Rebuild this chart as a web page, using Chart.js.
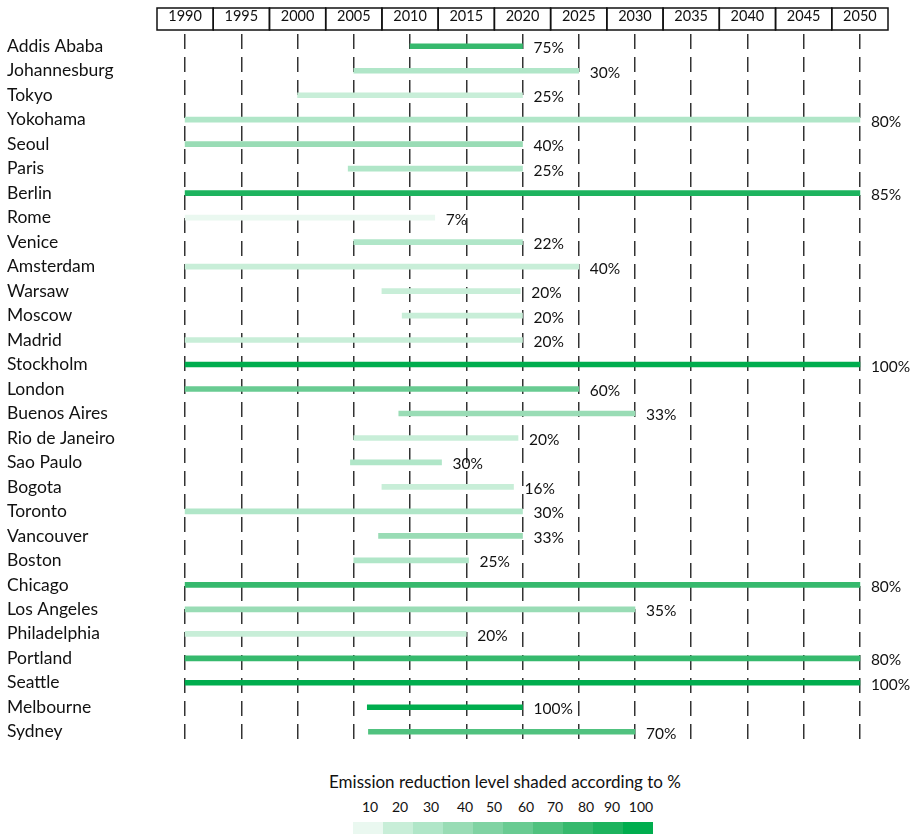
<!DOCTYPE html>
<html>
<head>
<meta charset="utf-8">
<script src="https://cdn.jsdelivr.net/npm/chart.js@4/dist/chart.umd.min.js"></script>
<style>
  body { margin: 0; background: #fff; font-family: Lato, sans-serif; }
  #wrap { position: relative; width: 921px; height: 835px; }
  #chartBox { position: absolute; left: 0; top: 0; width: 921px; height: 760px; }
  #legend { position: absolute; left: 0; top: 766px; width: 921px; }
  #legend .title { position: absolute; left: 0; width: 1010px; text-align: center; top: 5px; font-size: 17px; color: #111; }
  #legend .num { position: absolute; top: 32px; font-size: 14px; color: #111; transform: translateX(-50%); }
  #legend .sw { position: absolute; top: 56px; height: 12px; width: 30px; }
</style>
</head>
<body>
<div id="wrap">
  <div id="chartBox"><canvas id="c"></canvas></div>
  <div id="legend"></div>
</div>
<script>
const cities = ["Addis Ababa", "Johannesburg", "Tokyo", "Yokohama", "Seoul", "Paris", "Berlin",
  "Rome", "Venice", "Amsterdam", "Warsaw", "Moscow", "Madrid", "Stockholm", "London",
  "Buenos Aires", "Rio de Janeiro", "Sao Paulo", "Bogota", "Toronto", "Vancouver", "Boston",
  "Chicago", "Los Angeles", "Philadelphia", "Portland", "Seattle", "Melbourne", "Sydney"];
const startYears = [2010, 2005, 2000, 1990, 1990, 2004.5, 1990, 1990, 2005, 1990, 2007.5, 2009.3, 1990,
  1990, 1990, 2009, 2005, 2004.7, 2007.5, 1990, 2007.2, 2005, 1990, 1990, 1990, 1990, 1990, 2006.2, 2006.3];
const endYears = [2020, 2025, 2020, 2050, 2020, 2020, 2050, 2012.2, 2020, 2025, 2019.8, 2020, 2020,
  2050, 2025, 2030, 2019.6, 2012.8, 2019.2, 2020, 2020, 2015.2, 2050, 2030, 2015, 2050, 2050, 2020, 2030];
const reductions = [75, 30, 25, 80, 40, 25, 85, 7, 22, 40, 20, 20, 20, 100, 60, 33, 20, 30, 16, 30, 33,
  25, 80, 35, 20, 80, 100, 100, 70];
// shade level the bar is painted with (as seen in the picture)
const shades = [80, 30, 20, 30, 40, 30, 90, 10, 30, 20, 20, 20, 20, 100, 60, 40, 20, 30, 20, 30, 40,
  30, 80, 40, 20, 80, 100, 100, 70];
const years = [1990, 1995, 2000, 2005, 2010, 2015, 2020, 2025, 2030, 2035, 2040, 2045, 2050];
const levels = [10, 20, 30, 40, 50, 60, 70, 80, 90, 100];
const levelColors = ["#eaf8f0", "#c8eed8", "#b0e6c8", "#99dcb5", "#80d3a3", "#69cb92", "#50c27f",
  "#36b96d", "#1db35e", "#00ad4e"];

function shadeColor(s) {
  const i = levels.indexOf(s);
  return levelColors[i];
}

const yearBoxes = {
  id: "yearBoxes",
  afterDraw(chart) {
    const x = chart.scales.x;
    const ctx = chart.ctx;
    ctx.save();
    ctx.strokeStyle = "#111";
    ctx.lineWidth = 1.5;
    years.forEach((y) => {
      const l = x.getPixelForValue(y - 2.5);
      const r = x.getPixelForValue(y + 2.5);
      ctx.strokeRect(l, 8, r - l, 22);
    });
    ctx.restore();
  },
};

const pctLabels = {
  id: "pctLabels",
  afterDatasetsDraw(chart) {
    const ctx = chart.ctx;
    const meta = chart.getDatasetMeta(0);
    ctx.save();
    ctx.font = "15.5px Lato";
    ctx.fillStyle = "#111";
    ctx.textBaseline = "middle";
    meta.data.forEach((bar, i) => {
      ctx.fillText(reductions[i] + "%", bar.x + 11, bar.y + 2);
    });
    ctx.restore();
  },
};

new Chart(document.getElementById("c"), {
  type: "bar",
  data: {
    labels: cities,
    datasets: [
      {
        data: cities.map((c, i) => [startYears[i], endYears[i]]),
        backgroundColor: shades.map(shadeColor),
        barThickness: 5,
        borderSkipped: false,
      },
    ],
  },
  options: {
    indexAxis: "y",
    responsive: true,
    maintainAspectRatio: false,
    animation: false,
    layout: { padding: { left: 7, right: 33, top: 0, bottom: 16 } },
    plugins: { legend: { display: false }, tooltip: { enabled: false } },
    scales: {
      x: {
        type: "linear",
        position: "top",
        min: 1987.5,
        max: 2052.5,
        afterBuildTicks: (axis) => {
          axis.ticks = years.map((v) => ({ value: v }));
        },
        afterFit: (axis) => {
          axis.height = 34;
        },
        ticks: {
          padding: 9,
          maxRotation: 0,
          autoSkip: false,
          color: "#111",
          font: { family: "Lato", size: 14.5 },
          callback: (v) => String(v),
        },
        grid: { color: "#333", lineWidth: 1.5, drawTicks: false },
        border: { display: false, dash: [15, 8] },
      },
      y: {
        afterFit: (axis) => {
          axis.width = 150;
        },
        ticks: {
          crossAlign: "far",
          autoSkip: false,
          color: "#111",
          font: { family: "Lato", size: 17.5 },
        },
        grid: { display: false },
        border: { display: false },
      },
    },
  },
  plugins: [yearBoxes, pctLabels],
});

const legend = document.getElementById("legend");
legend.innerHTML = '<div class="title">Emission reduction level shaded according to %</div>';
const numX = [370, 400, 431, 465, 494, 526, 555, 586, 612, 641];
levels.forEach((lv, i) => {
  const n = document.createElement("div");
  n.className = "num";
  n.textContent = lv;
  n.style.left = numX[i] + "px";
  legend.appendChild(n);
  const s = document.createElement("div");
  s.className = "sw";
  s.style.left = 353 + i * 30 + "px";
  s.style.background = levelColors[i];
  legend.appendChild(s);
});
</script>
</body>
</html>
